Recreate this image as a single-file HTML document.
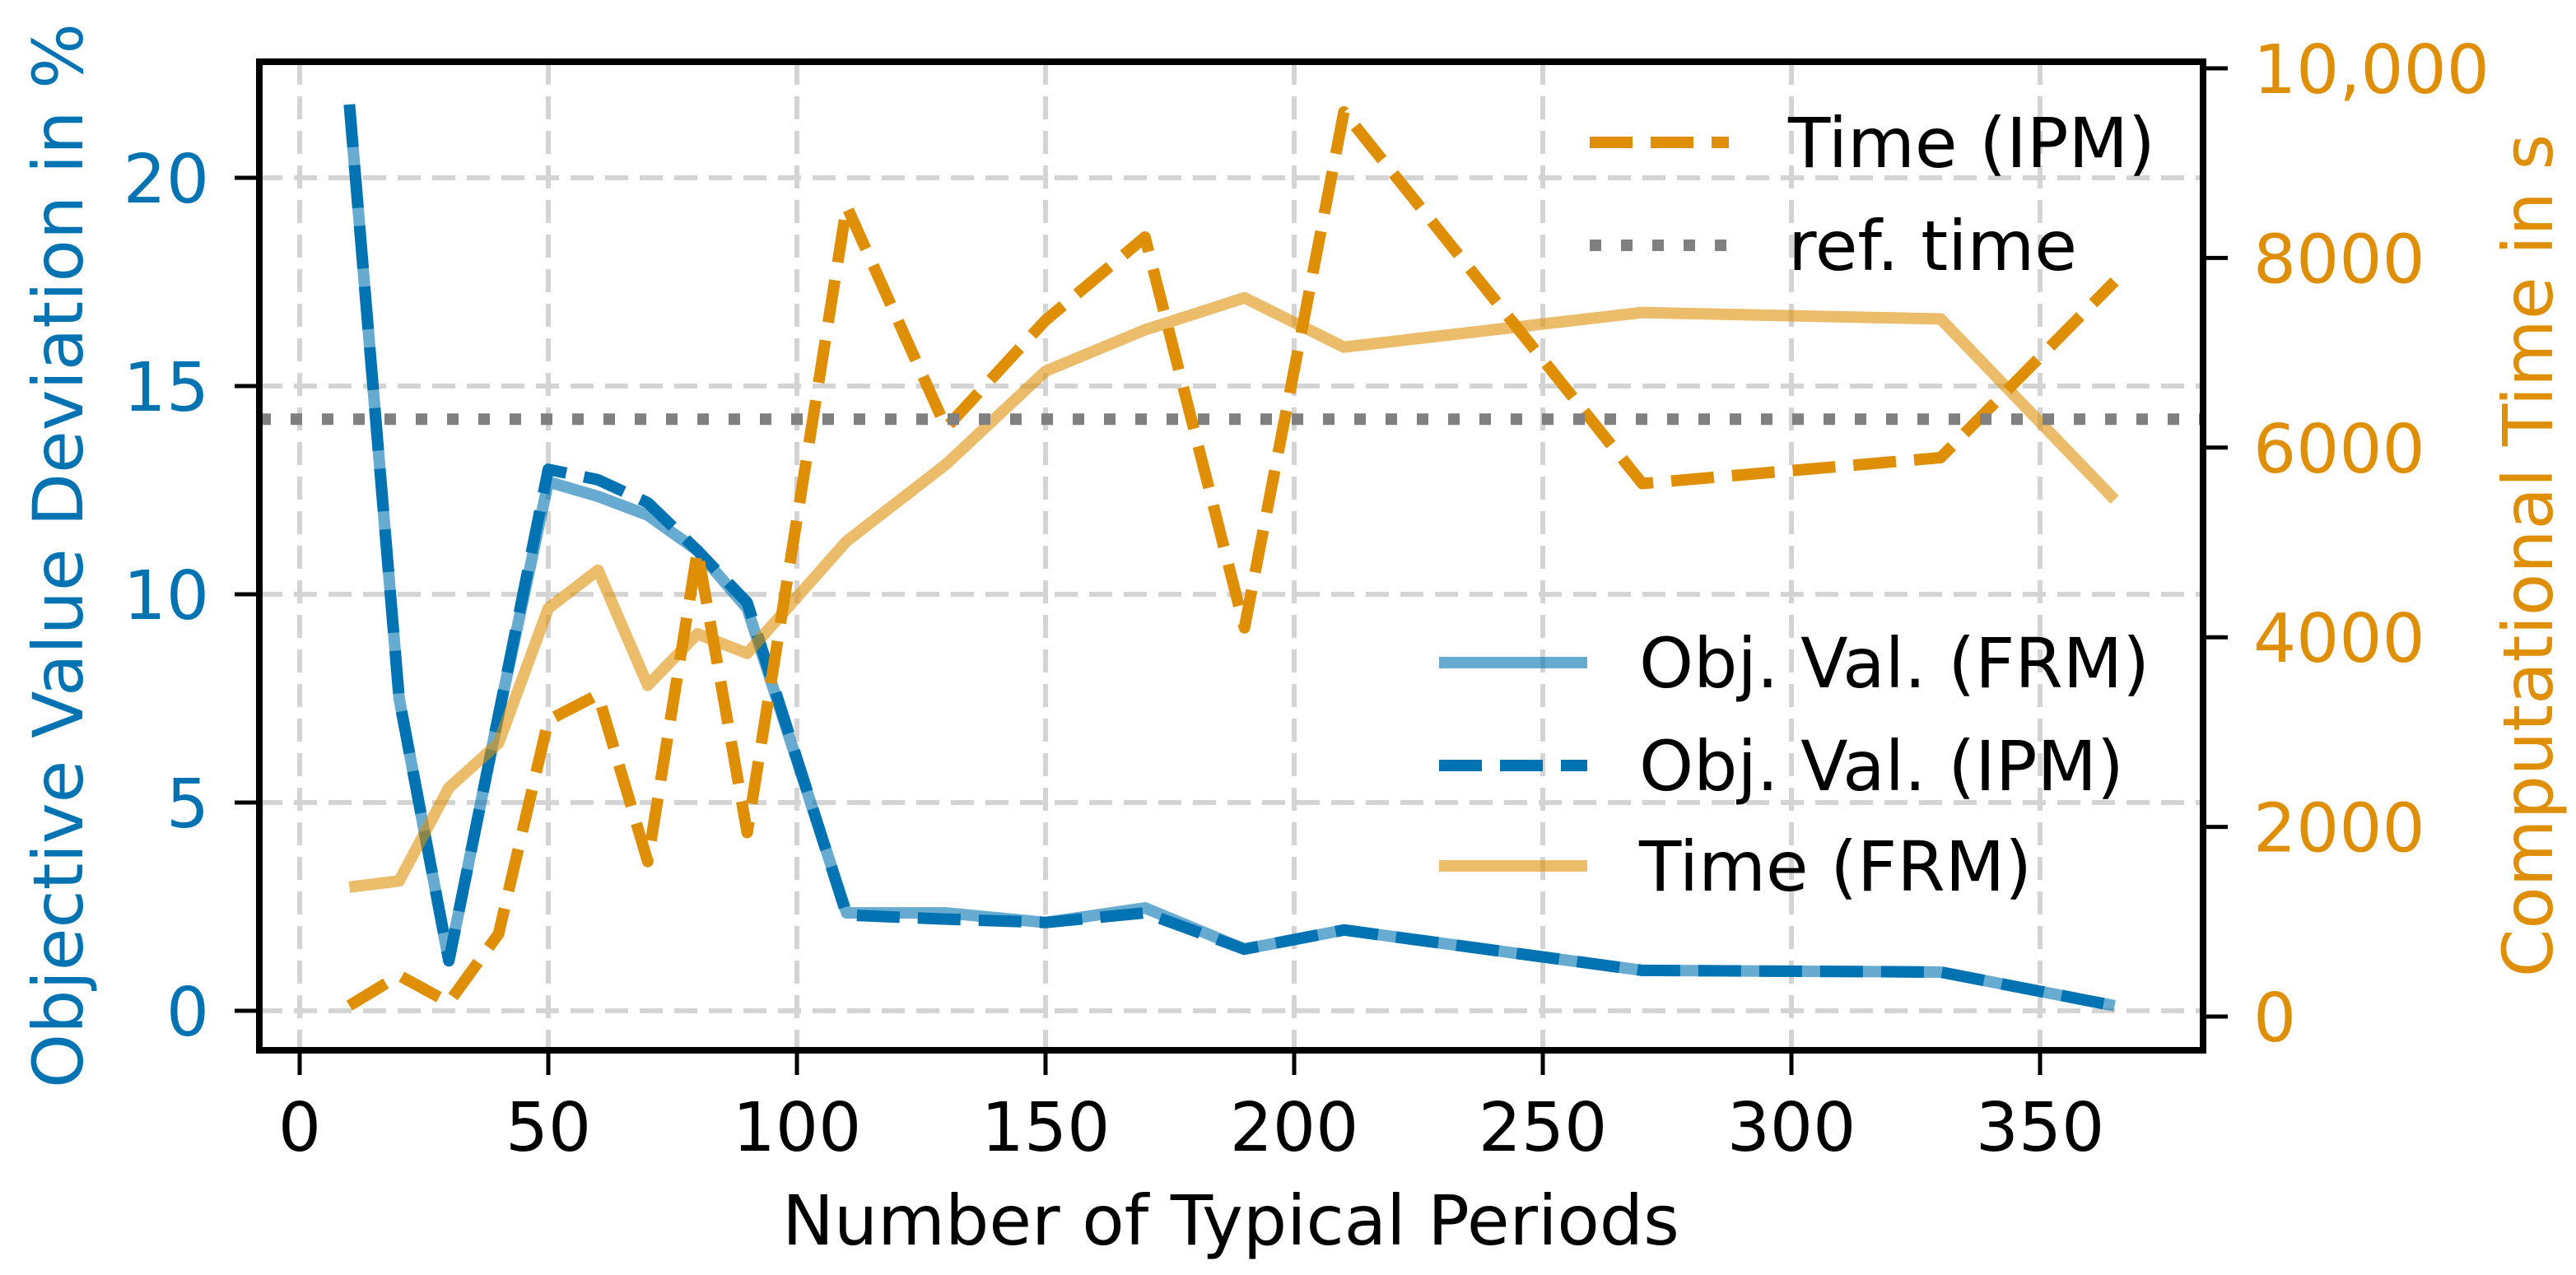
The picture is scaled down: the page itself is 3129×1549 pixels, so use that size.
<!DOCTYPE html>
<html><head><meta charset="utf-8"><style>
html,body{margin:0;padding:0;background:#fff;}
svg{display:block;font-family:"DejaVu Sans","Liberation Sans",sans-serif;}
</style></head><body>
<svg id="chart" width="3129" height="1549" viewBox="0 0 3129 1549" xmlns="http://www.w3.org/2000/svg">
<g id="grid"></g>
<g id="series"></g>
<g id="axes"></g>
<g id="legend"></g>
</svg>
<script>
const xs = [10,20,30,40,50,60,70,80,90,110,130,150,170,190,210,270,330,365];
const objFRM = [21.76,7.5,1.2,7.1,12.7,12.35,11.9,11.05,9.66,2.35,2.35,2.12,2.47,1.48,1.94,0.97,0.93,0.12];
const objIPM = [21.76,7.5,1.2,7.1,13.0,12.75,12.2,11.05,9.8,2.3,2.2,2.12,2.35,1.48,1.94,0.97,0.93,0.12];
const timeFRM = [1365,1430,2413,2885,4305,4708,3493,4036,3830,5013,5825,6806,7242,7580,7060,7425,7357,5451];
const timeIPM = [115,434,148,872,3125,3394,1635,4913,1940,8546,6208,7343,8220,4100,9540,5621,5894,7752];
const refTime = 6300;
const xTicks = [0,50,100,150,200,250,300,350];
const yLeftTicks = [0,5,10,15,20];
const yRightTicks = [0,2000,4000,6000,8000,10000];
const yRightLabels = ["0","2000","4000","6000","8000","10,000"];

const L=315,R=2676,T=75,B=1276;
const X=v=>364+v*6.04;
const YL=v=>1228-v*50.6;
const YR=v=>1235-v*0.1152;
const NS="http://www.w3.org/2000/svg";
const BLUE="#0173b2",ORANGE="#de8f05";
const LW=14, DASH='52 22', DOT='14 24';
function mk(tag,attrs,parent,text){const e=document.createElementNS(NS,tag);for(const k in attrs)e.setAttribute(k,attrs[k]);if(text!==undefined)e.textContent=text;parent.appendChild(e);return e;}
const grid=document.getElementById('grid'),series=document.getElementById('series'),axes=document.getElementById('axes'),legend=document.getElementById('legend');

xTicks.forEach(t=>{const l=mk('line',{x1:X(t),x2:X(t),y1:T,y2:B,stroke:'#d4d4d4','stroke-width':6,'stroke-dasharray':'28 14'},grid);

});
yLeftTicks.forEach(t=>{const l=mk('line',{x1:L,x2:R,y1:YL(t),y2:YL(t),stroke:'#d4d4d4','stroke-width':6,'stroke-dasharray':'28 14'},grid);

});

function poly(vals,yf,color,w,dash,op,name){
  const pts=xs.map((x,i)=>X(x)+','+yf(vals[i])).join(' ');
  const a={points:pts,fill:'none',stroke:color,'stroke-width':w,'stroke-opacity':op,'stroke-linejoin':'round'};
  if(dash)a['stroke-dasharray']=dash;
  const p=mk('polyline',a,series);
  
  
}
poly(objFRM,YL,BLUE,LW,null,0.6,'obj-val-frm-line');
poly(objIPM,YL,BLUE,LW,DASH,1,'obj-val-ipm-line');
poly(timeFRM,YR,ORANGE,LW,null,0.6,'time-frm-line');
poly(timeIPM,YR,ORANGE,LW,DASH,1,'time-ipm-line');
const ref=mk('line',{x1:L,x2:R,y1:YR(refTime),y2:YR(refTime),stroke:'#808080','stroke-width':LW,'stroke-dasharray':DOT},series);



const frame=mk('rect',{x:L,y:T,width:R-L,height:B-T,fill:'none',stroke:'#000','stroke-width':8},axes);



xTicks.forEach(t=>{mk('line',{x1:X(t),x2:X(t),y1:B,y2:B+30,stroke:'#000','stroke-width':5},axes);
const tx=mk('text',{x:X(t),y:1398,'font-size':82,'text-anchor':'middle',fill:'#000'},axes,String(t));

});
yLeftTicks.forEach(t=>{mk('line',{x1:L-30,x2:L,y1:YL(t),y2:YL(t),stroke:'#000','stroke-width':5},axes);
const tx=mk('text',{x:254,y:YL(t)+30,'font-size':82,'text-anchor':'end',fill:BLUE},axes,String(t));

});
yRightTicks.forEach((t,i)=>{mk('line',{x1:R,x2:R+30,y1:YR(t),y2:YR(t),stroke:'#000','stroke-width':5},axes);
const tx=mk('text',{x:2737,y:YR(t)+30,'font-size':82,'text-anchor':'start',fill:ORANGE},axes,yRightLabels[i]);

});

const xl=mk('text',{x:1495,y:1512,'font-size':84,'text-anchor':'middle',fill:'#000'},axes,'Number of Typical Periods');


const yl=mk('text',{x:0,y:0,'font-size':84,'text-anchor':'middle',fill:BLUE,transform:'translate(100,675) rotate(-90)'},axes,'Objective Value Deviation in %');


const yr=mk('text',{x:0,y:0,'font-size':84,'text-anchor':'middle',fill:ORANGE,transform:'translate(3100,675) rotate(-90)'},axes,'Computational Time in s');



function entry(x1,x2,y,tx,color,dash,op,label,name){
  const a={x1:x1,x2:x2,y1:y,y2:y,stroke:color,'stroke-width':LW,'stroke-opacity':op};
  if(dash)a['stroke-dasharray']=dash;
  const g=mk('g',{},legend);
  
  
  mk('line',a,g);
  mk('text',{x:tx,y:y+30,'font-size':84,fill:'#000'},g,label);
}
entry(1931,2100,173,2172,ORANGE,DASH,1,'Time (IPM)','legend-entry-time-ipm');
entry(1931,2100,298,2172,'#808080',DOT,1,'ref. time','legend-entry-ref-time');
entry(1748,1928,805,1991,BLUE,null,0.6,'Obj. Val. (FRM)','legend-entry-obj-frm');
entry(1748,1928,930,1991,BLUE,DASH,1,'Obj. Val. (IPM)','legend-entry-obj-ipm');
entry(1748,1928,1052,1991,ORANGE,null,0.6,'Time (FRM)','legend-entry-time-frm');
</script>
</body></html>
